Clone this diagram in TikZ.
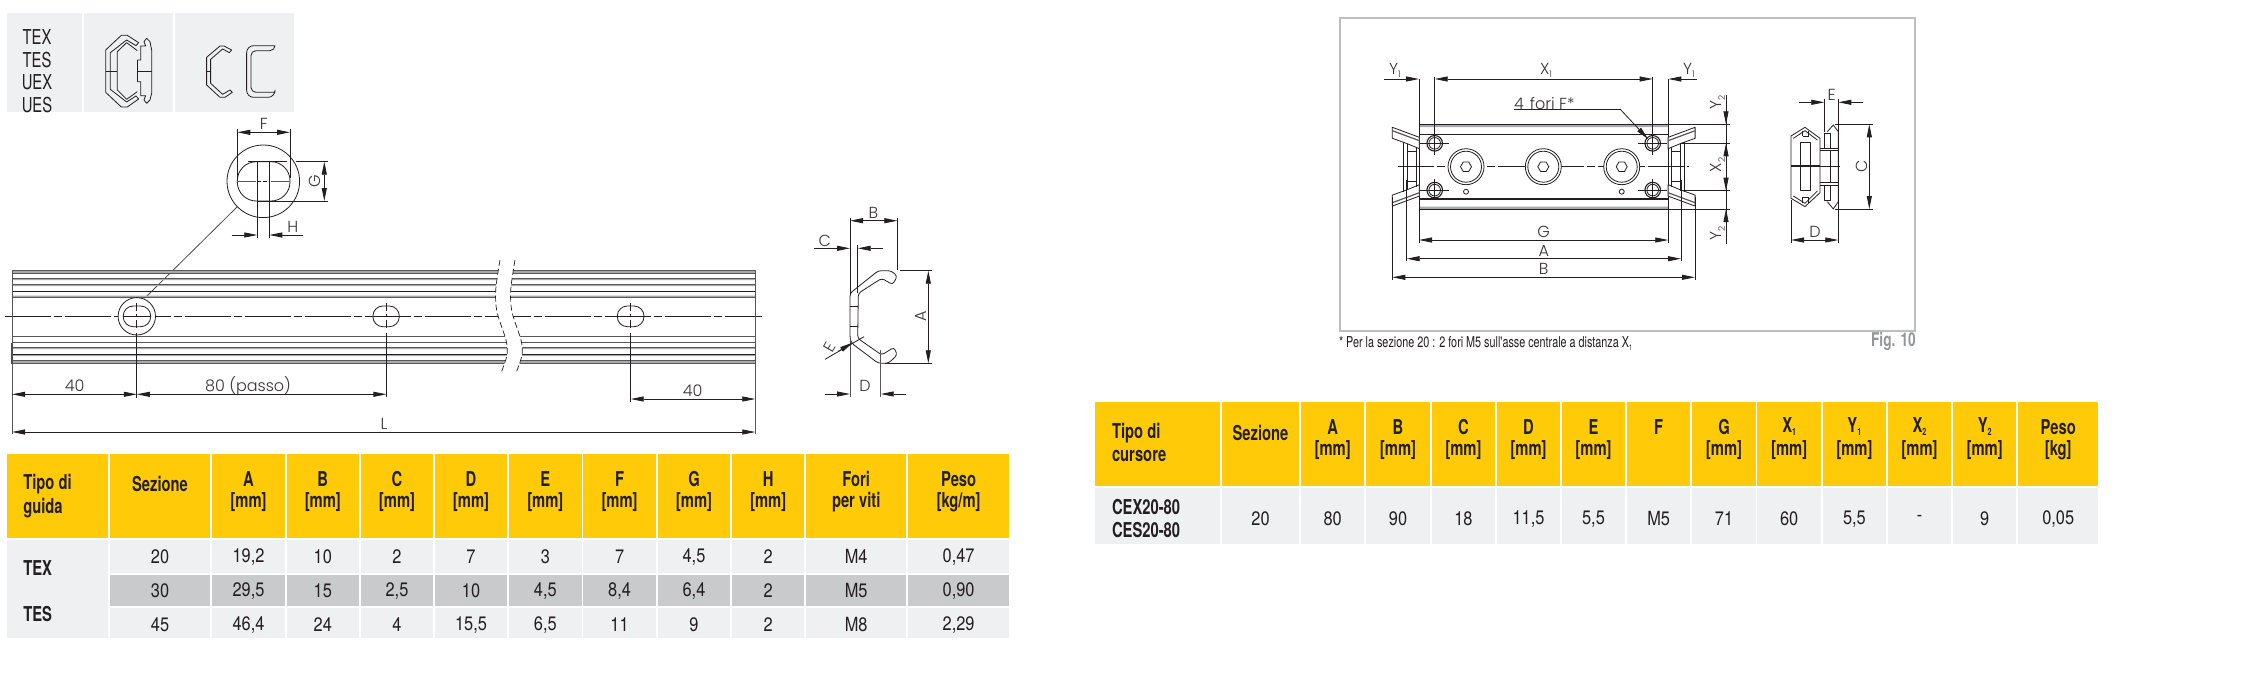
\documentclass[tikz,border=0pt]{standalone}
\usepackage{fontspec}
\usetikzlibrary{arrows.meta}
\setmainfont{TeX Gyre Heros}
\newfontfamily\cond{TeX Gyre Heros}[FakeStretch=0.72]
\newfontfamily\numf{TeX Gyre Heros}[FakeStretch=0.84]
\newfontfamily\dimf{Poppins}[UprightFont=* Light]
\definecolor{ink}{HTML}{231F20}
\definecolor{yel}{HTML}{FFCB08}
\definecolor{lgr}{HTML}{EFF0F2}
\definecolor{mgr}{HTML}{C9CACC}
\definecolor{bgr}{HTML}{A7A9AC}
\definecolor{fgr}{HTML}{939598}
\definecolor{boxg}{HTML}{BCBEC0}
\newcounter{nn}
\newcommand\Tx[4][]{\stepcounter{nn}\node[txt,#1] (n\thenn) at (#2,#3) {#4};}
\newcommand\sbb[1]{\raisebox{-3pt}{\fontsize{10}{10}\selectfont #1}}
\tikzset{
  txt/.style={inner sep=0pt,outer sep=0pt,text=ink},
  hdr/.style={font=\cond\bfseries\fontsize{20.5}{20.5}\selectfont},
  val/.style={font=\numf\fontsize{19.5}{19.5}\selectfont},
  dl/.style={font=\dimf\fontsize{16}{16}\selectfont,text=ink!90},
  ln/.style={draw=ink,line width=.8pt},
  thk/.style={draw=ink,line width=1.1pt},
  gl/.style={draw=ink!75,line width=.9pt},
  dima/.style={draw=ink,line width=.8pt,>={Triangle[length=13pt,width=5pt]}},
  cl/.style={draw=ink,line width=.8pt,dash pattern=on 46pt off 3pt on 8pt off 3pt},
  dsh/.style={draw=ink,line width=.7pt,dash pattern=on 6pt off 3pt},
}
\begin{document}
\begin{tikzpicture}[x=1pt,y=-1pt]
\useasboundingbox (0,0) rectangle (2260,694);
\fill[white] (0,0) rectangle (2260,694);
% ---- top tiles
\fill[lgr] (7,13) rectangle (81.7,111.7);
\fill[lgr] (84,13) rectangle (172.7,111.7);
\fill[lgr] (175,13) rectangle (294,111.7);
\foreach \s/\yy in {TEX/37,TES/60.3,UEX/82,UES/105}{\Tx[hdr,font=\cond\fontsize{20.5}{20.5}\selectfont]{37}{\yy}{\s}}
\begin{scope}[x=.3333pt,y=-.3333pt,line join=round]
 \draw[ln] (416,128)--(382,106)--(364,106)--(317,150)--(317,277)--(364,321)--(382,321)--(416,297)--(408,288)--(380,306)--(331,268)--(331,158)--(380,120)--(408,137)--cycle;
 \draw[ln] (412,152)--(380,128)--(352,155)--(352,270)--(380,298)--(412,275);
 \draw[ln] (317,213)--(352,213);
 \draw[ln] (412,180)--(412,245);
 \draw[ln] (412,180)--(422,180)--(422,138)--(437,138)--(432,125)--(440,115)--(450,125)--(455,150)--(455,280)--(450,300)--(440,310)--(432,300)--(437,287)--(422,287)--(422,245)--(412,245);
 \draw[ln] (412,213)--(455,213);
 \draw[ln] (695,150)--(672,138)--(660,138)--(620,172)--(620,255)--(660,292)--(675,292)--(697,277)--(690,270)--(668,283)--(632,250)--(632,178)--(668,147)--(688,158)--cycle;
 \draw[ln] (620,215)--(632,215);
 \draw[ln] (825,137) [rounded corners=7pt] -- (740,137) -- (740,292) -- (825,292) [sharp corners] -- (825,277) [rounded corners=5pt] -- (753,277) -- (753,152) -- (825,152) [sharp corners] -- cycle;
\end{scope}
% ---- detail circle
\draw[ln] (263.3,181.3) circle (36.3);
\draw[ln,rounded corners=19pt] (237.3,161.7) rectangle (290,201);
\draw[gl] (237.3,181.3)--(256,181.3) (271,181.3)--(290,181.3);
\draw[ln,dash pattern=on 4pt off 2pt] (257,181.3)--(270,181.3);
\draw[ln] (237.3,129.3)--(237.3,178) (290,129.3)--(290,178);
\draw[dima,<->] (237.3,132.3)--(290,132.3);
\Tx[dl]{263.7}{124}{F}
\draw[ln] (295.7,161.7)--(327.7,161.7) (256.7,201)--(327.7,201) (248,161.7)--(286.7,161.7);
\draw[dima,<->] (324.3,161.7)--(324.3,201);
\Tx[dl,rotate=90]{315}{181}{G}
\draw[ln] (257.3,161.7)--(257.3,238.3) (269.3,161.7)--(269.3,238.3);
\draw[dima,->] (231.7,235)--(257.3,235);
\draw[dima,->] (302.7,235)--(269.3,235);
\Tx[dl]{292.7}{227}{H}
\draw[draw=ink!80,line width=.8pt] (237.3,206.7)--(144.6,298.3);
% ---- rail
\fill[bgr] (12,270.3) rectangle (755.3,273.3) (12,278.3) rectangle (755.3,280) (12,284.7) rectangle (755.3,286) (12,295.7) rectangle (755.3,297);
\fill[bgr] (12,347.3) rectangle (755.3,349) (12,355) rectangle (755.3,356) (12,360.7) rectangle (755.3,363.7);
\foreach \yy in {270.3,273.3,278.3,284.7,297,336.7,342.3,347.5,360.7,363.7}{\draw[gl] (12,\yy)--(755.3,\yy);}
\foreach \yy in {291.3,354.7}{\draw[thk] (12,\yy)--(755.3,\yy);}
\draw[cl] (5,316.3)--(762,316.3);
\fill[white] plot[smooth] coordinates {(500,260) (495.7,290) (497,312) (506,340) (507,355) (501,373)} -- plot[smooth] coordinates {(516,373) (522,355) (521,340) (512,312) (510.7,290) (515,260)} -- cycle;
\foreach \dx in {0,15}{\draw[dsh,shift={(\dx,0)}] plot[smooth] coordinates {(500,260) (495.7,290) (497,312) (506,340) (507,355) (501,373)};}
\draw[gl] (12,270)--(12,434.3) (755.3,270)--(755.3,434.3);
\draw[line width=1.2pt,draw=ink!80] (12,343)--(12,363.7) (755.3,345)--(755.3,363.7);
% holes
\draw[ln,fill=white] (136.8,316.3) circle (18.7);
\draw[ln,fill=white,rounded corners=10pt] (123.2,306) rectangle (150.7,326.7);
\draw[ln,fill=white,rounded corners=10pt] (372.9,306) rectangle (399.3,326.7);
\draw[ln,fill=white,rounded corners=10pt] (617.3,306) rectangle (644,326.7);
\draw[ln] (123.2,316.3)--(150.7,316.3) (372.9,316.3)--(399.3,316.3) (617.3,316.3)--(644,316.3);
\foreach \xx in {136.8,386.4,630.7}{\draw[ln,dash pattern=on 8pt off 3pt on 3pt off 3pt] (\xx,303)--(\xx,330);}
\draw[ln] (136.8,333.3)--(136.8,397.7) (386.4,332.7)--(386.4,397) (630.7,333)--(630.7,401.7);
% dims rail
\draw[dima,<->] (12,394.3)--(136.8,394.3);
\draw[dima,<->] (136.8,394.3)--(386.4,394.3);
\draw[dima,<->] (630.7,399)--(755.3,399);
\draw[dima,<->] (12,432)--(755.3,432);
\Tx[dl]{74.6}{386}{40}
\Tx[dl]{248}{386}{80 (passo)}
\Tx[dl]{692.7}{391}{40}
\Tx[dl]{384}{424}{L}
% ---- section
\draw[ln,rounded corners=3pt] (850,293.3)--(878.3,270.7)--(891,270.7)--(897.3,276)--(892.7,284.7)--(881.7,278.3)--(858.3,293.3)--(857.7,338.3)--(881.7,355)--(894,347.3)--(897.3,355)--(888.3,363.3)--(878.3,363.3)--(851.7,343.3)--(850,338.3)--cycle;
\draw[ln] (850,306.7)--(857.7,306.7) (850,326)--(857.7,326);
\draw[ln] (850,218)--(850,294) (897.3,218)--(897.3,270) (857.7,245)--(857.7,293);
\draw[gl] (850,338)--(850,397) (880.7,350)--(880.7,397);
\draw[dima,<->] (850,220.7)--(897.3,220.7);
\Tx[dl]{873.3}{212.7}{B}
\draw[dima,->] (814,248.3)--(850,248.3);
\draw[dima,->] (882.7,248.3)--(857.7,248.3);
\Tx[dl]{824.7}{240.7}{C}
\draw[ln] (900,270.7)--(931.7,270.7) (885,363.3)--(931.7,363.3);
\draw[dima,<->] (928.3,270.7)--(928.3,363.3);
\Tx[dl,rotate=90]{920.7}{316.7}{A}
\draw[dima,->] (825,394)--(850,394);
\draw[dima,->] (906,394)--(880.7,394);
\Tx[dl]{865}{385.7}{D}
\draw[ln] (825,359.3)--(864,336.7);
\draw[dima,->] (838,351.5)--(852.7,342.7);
\Tx[dl,rotate=60]{829.3}{347.3}{E}
% ---- fig box
\draw[boxg,line width=2.2pt] (1340,18) rectangle (1915.3,331);
% plate
\fill[bgr] (1419,124.3) rectangle (1668.3,127) (1419,206.5) rectangle (1668.3,209);
\draw[ln] (1419,124.3)--(1668.3,124.3)--(1668.3,209)--(1419,209)--cycle;
\draw[thk] (1419,134.3)--(1668.3,134.3) (1419,199)--(1668.3,199);
\foreach \sx/\sy in {1/1,-1/1,1/-1,-1/-1}{
 \begin{scope}[shift={(1543.7,166.7)},xscale=\sx,yscale=\sy]
  \draw[ln,fill=white,line join=round] (-151.4,-39.4)--(-124.4,-29.4)--(-124.4,-18)--(-136.4,-23)--(-151.4,-28.4)--cycle;
  \draw[gl,line width=1.2pt] (-151.4,-36)--(-124.4,-26);
  \draw[ln] (-140.7,-25)--(-140.7,0) (-136.7,-23)--(-136.7,0) (-127.7,-20)--(-127.7,0) (-136.7,-15)--(-127.7,-15);
  \draw[thk,fill=white] (-109,-23.4) circle (7.8);
  \draw[ln] (-109,-23.4) circle (5.8);
  \draw[ln] (-123.7,-23.4)--(-94.7,-23.4);
  \draw[ln] (-109,-33)--(-109,-12);
 \end{scope}}
\draw[cl,dash pattern=on 36pt off 3pt on 8pt off 3pt] (1398,166.7)--(1689,166.7);
\foreach \xx in {1466,1543.3,1621.7}{
 \draw[ln,fill=white] (\xx,166.7) circle (18);
 \draw[ln] (\xx,166.7) circle (15.5);
 \draw[ln] (\xx,166.7) ++(5.5,0)--++(-2.75,4.76)--++(-5.5,0)--++(-2.75,-4.76)--++(2.75,-4.76)--++(5.5,0)--cycle;
}
\draw[ln] (1466,191.7) circle (2.5) (1621.7,191.7) circle (2.5);
% cursor dims
\draw[ln] (1419,79)--(1419,124.3) (1434.7,77)--(1434.7,134) (1652.7,77)--(1652.7,134) (1668.3,79)--(1668.3,124.3);
\draw[dima,<->] (1434.7,79)--(1652.7,79);
\draw[dima,->] (1384.3,79)--(1419,79);
\draw[dima,->] (1696.7,79)--(1668.3,79);
\Tx[dl]{1546}{70.7}{X\sbb{\fontsize{9}{9}\selectfont1}}
\Tx[dl]{1395}{70.7}{Y\sbb{\fontsize{9}{9}\selectfont1}}
\Tx[dl]{1689}{70.7}{Y\sbb{\fontsize{9}{9}\selectfont1}}
\Tx[dl,anchor=west]{1514}{103.3}{4\hspace{6pt}fori F*}
\draw[ln] (1514,109)--(1620,109);
\draw[dima,->] (1620,109)--(1648,139);
\draw[ln] (1668.3,124.3)--(1730,124.3) (1680,143.3)--(1730,143.3) (1680,190.7)--(1730,190.7) (1668.3,209)--(1730,209);
\draw[ln] (1726,95)--(1726,244);
\draw[dima,->] (1726,110)--(1726,124.3);
\draw[dima,->] (1726,158)--(1726,143.3);
\draw[dima,->] (1726,176)--(1726,190.7);
\draw[dima,->] (1726,223)--(1726,209);
\Tx[dl,rotate=90]{1717.7}{102.7}{Y\sbb{\fontsize{9}{9}\selectfont2}}
\Tx[dl,rotate=90]{1717.7}{165}{X\sbb{\fontsize{9}{9}\selectfont2}}
\Tx[dl,rotate=90]{1717.7}{233.3}{Y\sbb{\fontsize{9}{9}\selectfont2}}
\draw[ln] (1419,209)--(1419,243) (1668.3,209)--(1668.3,243) (1406.7,180)--(1406.7,261) (1681,180)--(1681,261) (1392.3,197)--(1392.3,280) (1695,197)--(1695,280);
\draw[dima,<->] (1419,240)--(1668.3,240);
\draw[dima,<->] (1406.7,258.7)--(1681,258.7);
\draw[dima,<->] (1392.3,277.3)--(1695,277.3);
\Tx[dl]{1543.7}{231.7}{G}
\Tx[dl]{1543.7}{250.7}{A}
\Tx[dl]{1543.7}{269}{B}
% side view
\begin{scope}[shift={(1740,10)},x=.3333pt,y=-.3333pt,line join=round]
 \draw[ln,fill=white] (153,378)--(195,352)--(240,385)--(240,548)--(195,590)--(153,565)--cycle;
 \draw[ln] (160,385)--(195,362)--(232,390) (160,558)--(195,580)--(232,543);
 \draw[ln] (188,378)--(188,362) (206,378)--(206,362) (188,378)--(206,378) (188,562)--(206,562) (188,580)--(188,562) (206,580)--(206,562);
 \draw[ln] (182,398) rectangle (212,540);
 \draw[ln] (240,415)--(295,415) (240,525)--(295,525) (240,422)--(295,422) (240,518)--(295,518);
 \draw[ln] (253,415)--(253,370)--(272,370)--(272,415) (253,525)--(253,570)--(272,570)--(272,525);
 \draw[ln] (262,365)--(280,345)--(295,365)--(295,575)--(280,597)--(262,575);
 \draw[ln] (272,422)--(272,518);
 \draw[thk] (153,468)--(240,468);
 \draw[ln] (240,468)--(300,468);
\end{scope}
\draw[ln] (1824.3,99)--(1824.3,131.7) (1838.3,99)--(1838.3,243) (1791,200)--(1791,243);
\draw[dima,->] (1799.3,102.3)--(1824.3,102.3);
\draw[dima,->] (1863.3,102.3)--(1838.3,102.3);
\draw[dima,<->] (1791,240)--(1838.3,240);
\Tx[dl]{1831.7}{94.7}{E}
\Tx[dl]{1815}{231.7}{D}
\draw[ln] (1835,124.3)--(1872.7,124.3) (1835,209)--(1872.7,209);
\draw[dima,<->] (1869.3,124.3)--(1869.3,209);
\Tx[dl,rotate=90]{1861.7}{166.7}{C}
% notes
\Tx[anchor=west,font=\cond\fontsize{15}{15}\selectfont]{1339}{344}{* Per la sezione 20 : 2 fori M5 sull'asse centrale a distanza X\raisebox{-3pt}{\fontsize{8}{8}\selectfont 1}}
\Tx[anchor=east,font=\cond\bfseries\fontsize{19}{19}\selectfont,text=fgr]{1915.7}{341.7}{Fig. 10}
% ---- table left
\foreach \a/\b in {6.7/107.7,109.7/210.3,212.3/284.7,286.7/359,361/433,435/507,509/581.7,583.3/656,658/730,732/804.3,806/906.3,908/1009.3}{\fill[yel] (\a,454.3) rectangle (\b,538.3);}
\fill[lgr] (6.7,540.3) rectangle (107.7,637.7);
\foreach \a/\b in {109.7/210.3,212.3/284.7,286.7/359,361/433,435/507,509/581.7,583.3/656,658/730,732/804.3,806/906.3,908/1009.3}{
 \fill[lgr] (\a,540.3) rectangle (\b,572.7);
 \fill[mgr] (\a,574.7) rectangle (\b,606);
 \fill[lgr] (\a,608.3) rectangle (\b,637.7);}
\Tx[hdr,anchor=west]{23.3}{484.3}{Tipo di}
\Tx[hdr,anchor=west]{23.3}{508}{guida}
\Tx[hdr]{160}{484.3}{Sezione}
\Tx[hdr,anchor=west]{23.3}{568.3}{TEX}
\Tx[hdr,anchor=west]{23.3}{613.7}{TES}
\foreach \xx/\h/\u/\p/\q/\r in {160/{}/{}/20/30/45,248.5/A/[mm]/{19,2}/{29,5}/{46,4},322.8/B/[mm]/10/15/24,397/C/[mm]/2/{2,5}/4,471/D/[mm]/7/10/{15,5},545.3/E/[mm]/3/{4,5}/{6,5},619.6/F/[mm]/7/{8,4}/11,694/G/[mm]/{4,5}/{6,4}/9,768.2/H/[mm]/2/2/2,856.2/Fori/per viti/M4/M5/M8,958.6/Peso/{[kg\slash m]}/{0,47}/{0,90}/{2,29}}{
 \Tx[hdr]{\xx}{478.7}{\h}
 \Tx[hdr]{\xx}{502}{\u}
 \Tx[val]{\xx}{556.7}{\p}
 \Tx[val]{\xx}{591}{\q}
 \Tx[val]{\xx}{624.7}{\r}}
% ---- table right
\foreach \a/\b in {1095.4/1220,1222.1/1298.9,1301/1364.3,1366.4/1429.6,1431.8/1495,1497/1560,1562/1625,1627/1690.3,1692.3/1755.7,1757.3/1821,1822.7/1886,1888/1951,1953/2016.3,2018/2098.3}{
 \fill[yel] (\a,402.3) rectangle (\b,486.3);
 \fill[lgr] (\a,488.3) rectangle (\b,543.7);}
\Tx[hdr,anchor=west]{1112}{432.7}{Tipo di}
\Tx[hdr,anchor=west]{1112}{455.7}{cursore}
\Tx[hdr]{1260.5}{432.7}{Sezione}
\Tx[hdr,anchor=west]{1112}{507.3}{CEX20-80}
\Tx[hdr,anchor=west]{1112}{530.3}{CES20-80}
\foreach \xx/\h/\u/\p in {1260.5/{}/{}/20,1332.7/A/[mm]/80,1398/B/[mm]/90,1463.4/C/[mm]/18,1528.5/D/[mm]/{11,5},1593.5/E/[mm]/{5,5},1658.7/F/{}/M5,1724/G/[mm]/71,1789.2/X\sbb{1}/[mm]/60,1854.4/Y\sbb{1}/[mm]/{5,5},1919.5/X\sbb{2}/[mm]/-,1984.7/Y\sbb{2}/[mm]/9,2058.2/Peso/[kg]/{0,05}}{
 \Tx[hdr]{\xx}{426.7}{\h}
 \Tx[hdr]{\xx}{450.3}{\u}
 \Tx[val]{\xx}{518.7}{\p}}
\end{tikzpicture}
\end{document}
